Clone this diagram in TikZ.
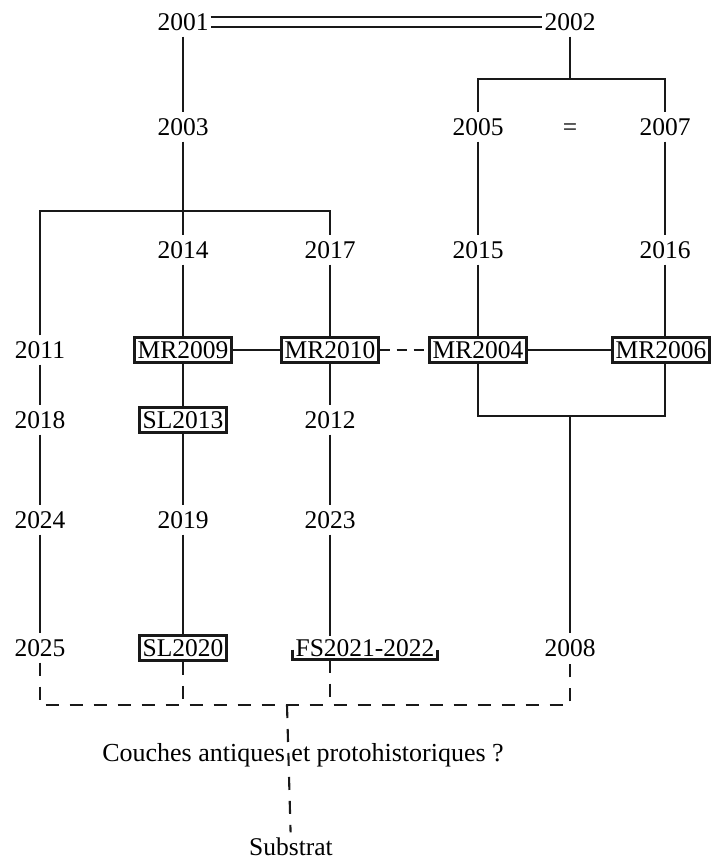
\documentclass[tikz,border=0pt]{standalone}
\usepackage{fontspec}
\setmainfont{Liberation Serif}
\usepackage{tikz}
\usetikzlibrary{positioning}

\begin{document}
\begin{tikzpicture}[
  x=1pt, y=-1pt,
  font=\fontsize{25.5}{30}\selectfont,
  on grid,
  yr/.style={inner xsep=2pt, inner ysep=6pt, text height=17pt, text depth=0pt, text=black},
  us/.style={yr, draw=black!90, line width=2.7pt, inner xsep=3pt, inner ysep=4pt},
  ln/.style={line width=2.6pt, draw=black!90},
  dsh/.style={line width=2.1pt, draw=black!90, dash pattern=on 13pt off 11pt},
]
\useasboundingbox (0,0) rectangle (711,863);

% top of the sequence
\node[yr] (n2001) at (183,22) {2001};
\node[yr, right=387pt of n2001] (n2002) {2002};
\node[yr, below=105pt of n2001] (n2003) {2003};
\node[yr] (n2005) at (478,127) {2005};
\node[yr, below=105pt of n2002] (eq) {=};
\node[yr] (n2007) at (665,127) {2007};

\node[yr, below=123pt of n2003] (n2014) {2014};
\node[yr, right=147pt of n2014] (n2017) {2017};
\node[yr, below=123pt of n2005] (n2015) {2015};
\node[yr, below=123pt of n2007] (n2016) {2016};

% walls
\node[yr] (n2011) at (40,350) {2011};
\node[us, below=100pt of n2014] (mr2009) {MR2009};
\node[us, below=100pt of n2017] (mr2010) {MR2010};
\node[us, below=100pt of n2015] (mr2004) {MR2004};
\node[us, below=100pt of n2016, xshift=-4pt] (mr2006) {MR2006};

\node[yr, below=70pt of n2011] (n2018) {2018};
\node[us, below=70pt of mr2009] (sl2013) {SL2013};
\node[yr, below=70pt of mr2010] (n2012) {2012};

\node[yr, below=100pt of n2018] (n2024) {2024};
\node[yr, below=100pt of sl2013] (n2019) {2019};
\node[yr, below=100pt of n2012] (n2023) {2023};

\node[yr, below=128pt of n2024] (n2025) {2025};
\node[us, below=128pt of n2019] (sl2020) {SL2020};
\node[yr, inner xsep=3pt, inner ysep=3pt, below=128pt of n2023, xshift=35pt] (fs) {FS2021-2022};
\node[yr] (n2008) at (570,648) {2008};

\node[text=black, font=\fontsize{26}{30}\selectfont] (couches) at (303,755) {Couches antiques et protohistoriques ?};
\node[yr] (substrat) at (291,847) {Substrat};

\coordinate (fork2) at (570,79);
\coordinate (fork3) at (183,211);
\coordinate (fork4) at (570,416);
\coordinate (base) at (287,705);

\draw[ln, double, double distance=8pt, line width=2pt] (n2001) -- (n2002);
\draw[ln] (n2001) -- (n2003);
\draw[ln] (n2002) -- (fork2);
\draw[ln] (n2005) |- (fork2) -| (n2007);
\draw[ln] (n2011) |- (fork3) -| (n2017);

\draw[ln] (n2003) -- (n2014) -- (mr2009) -- (sl2013) -- (n2019) -- (sl2020);
\draw[ln] (n2011) -- (n2018) -- (n2024) -- (n2025);
\draw[ln] (n2017) -- (mr2010) -- (n2012) -- (n2023) -- (n2023 |- fs.north);
\draw[ln] (n2005) -- (n2015) -- (mr2004);
\draw[ln] (n2007) -- (n2016) -- (n2016 |- mr2006.north);

\draw[ln] (mr2009) -- (mr2010);
\draw[dsh, dash pattern=on 10pt off 7pt] (mr2010) -- (mr2004);
\draw[ln] (mr2004) -- (mr2006);
\draw[ln] (mr2004) |- (fork4) -| (n2016 |- mr2006.south);
\draw[ln] (fork4) -- (n2008);

\draw[ln] ([yshift=10pt]fs.south west) -- (fs.south west) -- (fs.south east) -- ++(0,-10);

\draw[dsh] (n2025) |- (base) -| (n2008);
\draw[dsh] (sl2020) -- (sl2020 |- base);
\draw[dsh] (fs.south -| n2023) -- (n2023 |- base);
\draw[dsh] (base) -- (substrat);
\end{tikzpicture}
\end{document}
